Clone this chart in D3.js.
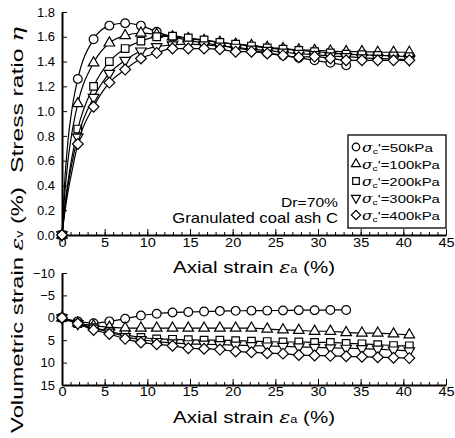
<!DOCTYPE html>
<html>
<head>
<meta charset="utf-8">
<script src="https://cdn.jsdelivr.net/npm/d3@7"></script>
<style>
  body { margin: 0; background: #fff; }
  svg { display: block; font-family: "Liberation Sans", Arial, sans-serif; }
</style>
</head>
<body>
<svg id="chart" width="455" height="438"></svg>
<script>
// axial strain (%) at each plotted marker
const strain = [0, 1.85, 3.7, 5.55, 7.4, 9.25, 11.1, 12.95, 14.8, 16.65, 18.5, 20.35, 22.2,
                24.05, 25.9, 27.75, 29.6, 31.45, 33.3, 35.15, 37.0, 38.85, 40.7];
// unmarked points of the fitted curves close to the origin
const leadStrain = [0.3, 0.7, 1.2];

const pressures = [50, 100, 200, 300, 400];

// stress ratio eta
const stress50  = [0, 1.26, 1.58, 1.69, 1.71, 1.69, 1.64, 1.60, 1.57, 1.55, 1.53, 1.51, 1.49, 1.47, 1.45, 1.43, 1.41, 1.39, 1.37];
const stress100 = [0, 1.06, 1.39, 1.55, 1.61, 1.63, 1.62, 1.60, 1.585, 1.57, 1.555, 1.54, 1.53, 1.515, 1.505, 1.495, 1.49, 1.485, 1.48, 1.48, 1.475, 1.475, 1.475];
const stress200 = [0, 0.855, 1.20, 1.40, 1.505, 1.565, 1.60, 1.605, 1.59, 1.575, 1.555, 1.54, 1.525, 1.51, 1.50, 1.49, 1.48, 1.47, 1.46, 1.455, 1.45, 1.445, 1.44];
const stress300 = [0, 0.79, 1.11, 1.305, 1.41, 1.485, 1.52, 1.535, 1.54, 1.535, 1.525, 1.515, 1.50, 1.49, 1.475, 1.465, 1.455, 1.445, 1.44, 1.43, 1.425, 1.42, 1.415];
const stress400 = [0, 0.735, 1.035, 1.23, 1.335, 1.425, 1.47, 1.505, 1.505, 1.505, 1.50, 1.48, 1.48, 1.465, 1.45, 1.435, 1.44, 1.425, 1.41, 1.41, 1.41, 1.41, 1.41];

const lead50  = [0.41, 0.76, 1.03];
const lead100 = [0.31, 0.60, 0.84];
const lead200 = [0.21, 0.43, 0.64];
const lead300 = [0.19, 0.40, 0.59];
const lead400 = [0.17, 0.35, 0.525];

// volumetric strain (%), compression positive
const vol50  = [0, 0.8, 1.2, 0.8, 0.2, -0.5, -0.9, -1.2, -1.3, -1.4, -1.5, -1.55, -1.6, -1.6, -1.65, -1.7, -1.7, -1.75, -1.75];
const vol100 = [0, 1.2, 1.8, 2.1, 2.3, 2.3, 2.3, 2.3, 2.3, 2.3, 2.3, 2.3, 2.3, 2.5, 2.7, 2.8, 3.0, 3.0, 3.3, 3.4, 3.4, 3.6, 3.8];
const vol200 = [0, 1.3, 2.2, 3.0, 3.8, 4.4, 4.7, 4.8, 4.9, 5.0, 5.0, 5.1, 5.2, 5.3, 5.4, 5.4, 5.5, 5.5, 5.7, 5.8, 6.0, 6.2, 6.25];
const vol300 = [0, 1.3, 2.3, 3.2, 4.2, 4.9, 5.3, 5.6, 5.8, 5.9, 6.0, 6.1, 6.2, 6.3, 6.4, 6.5, 6.6, 6.7, 6.8, 6.9, 7.0, 7.2, 7.4];
const vol400 = [0, 1.3, 2.7, 3.6, 4.7, 5.5, 5.9, 6.25, 6.8, 6.9, 7.1, 7.5, 7.7, 7.9, 8.0, 8.3, 8.4, 8.5, 8.6, 8.7, 8.8, 8.9, 9.0];

const xTicks = [0, 5, 10, 15, 20, 25, 30, 35, 40, 45];
const etaTicks = [0, 0.2, 0.4, 0.6, 0.8, 1.0, 1.2, 1.4, 1.6, 1.8];
const volTicks = [-10, -5, 0, 5, 10, 15];

const stressSeries = [stress50, stress100, stress200, stress300, stress400];
const leadSeries = [lead50, lead100, lead200, lead300, lead400];
const volSeries = [vol50, vol100, vol200, vol300, vol400];

const serif = "'DejaVu Serif', 'Liberation Serif', serif";
const svg = d3.select("#chart");

const x = d3.scaleLinear().domain([0, 45]).range([62, 446]);
const yTop = d3.scaleLinear().domain([0, 1.8]).range([235, 12]);
const yBot = d3.scaleLinear().domain([-10, 15]).range([273, 385]);

// marker shapes: circle, triangle, square, inverted triangle, diamond
const shapes = [
  { type: d3.symbolCircle, size: 60, rot: 0 },
  { type: d3.symbolTriangle, size: 48, rot: 0 },
  { type: d3.symbolSquare, size: 58, rot: 0 },
  { type: d3.symbolTriangle, size: 48, rot: 180 },
  { type: d3.symbolSquare, size: 58, rot: 45 }
];

function drawAxes(y, base, ticks, fmt, pad) {
  const yAxis = svg.append("g")
    .attr("transform", "translate(62,0)")
    .call(d3.axisLeft(y).tickValues(ticks).tickFormat(fmt).tickSizeInner(-5).tickSizeOuter(0).tickPadding(7));
  // minor ticks every 1 %
  svg.append("g")
    .attr("transform", "translate(0," + base + ")")
    .call(d3.axisBottom(x).tickValues(d3.range(0, 46, 1)).tickFormat("").tickSizeInner(-3).tickSizeOuter(0))
    .call(g => g.select(".domain").remove());
  const xAxis = svg.append("g")
    .attr("transform", "translate(0," + base + ")")
    .call(d3.axisBottom(x).tickValues(xTicks).tickSizeInner(-6).tickSizeOuter(0).tickPadding(pad));
  [yAxis, xAxis].forEach(g => {
    g.select(".domain").attr("stroke-width", 2);
    g.selectAll("text").attr("font-size", 13).attr("fill", "#000")
      .attr("font-family", "'Liberation Sans', Arial, sans-serif");
  });
  xAxis.selectAll("text").attr("transform", "scale(1.12,1)");
}

drawAxes(yTop, 235, etaTicks, d3.format(".1f"), 3);
drawAxes(yBot, 385, volTicks, d3.format("d"), 2);

const line = d3.line().x(d => x(d[0])).y(d => d[1]).curve(d3.curveMonotoneX);

function drawSeries(pts, marks, k) {
  svg.append("path")
    .attr("d", line(pts))
    .attr("fill", "none").attr("stroke", "#000").attr("stroke-width", 1.2);
  const s = shapes[k];
  svg.append("g").selectAll("path").data(marks).join("path")
    .attr("d", d3.symbol(s.type, s.size))
    .attr("transform", d => "translate(" + x(d[0]) + "," + d[1] + ") rotate(" + s.rot + ")")
    .attr("fill", "#fff").attr("stroke", "#000").attr("stroke-width", 1.2);
}

stressSeries.forEach((vals, k) => {
  const marks = vals.map((v, i) => [strain[i], yTop(v)]);
  const lead = leadSeries[k].map((v, i) => [leadStrain[i], yTop(v)]);
  const pts = [marks[0]].concat(lead, marks.slice(1));
  drawSeries(pts, marks, k);
});

volSeries.forEach((vals, k) => {
  const marks = vals.map((v, i) => [strain[i], yBot(v)]);
  drawSeries(marks, marks, k);
});

// text helpers
function richText(parent, parts, size) {
  const t = parent.append("text").attr("font-size", size).attr("fill", "#000");
  parts.forEach(p => {
    const s = t.append("tspan").text(p.t);
    if (p.i) s.attr("font-family", serif).attr("font-style", "italic");
    if (p.s) s.attr("font-size", p.s);
    if (p.dy) s.attr("dy", p.dy);
  });
  return t;
}
function place(t, cx, cy, width, rot, anchor) {
  t.attr("text-anchor", anchor || "middle");
  const k = width / t.node().getComputedTextLength();
  t.attr("transform", "translate(" + cx + "," + cy + ")" + (rot ? " rotate(" + rot + ")" : "") + " scale(" + k + ",1)");
}

const xTitle = [{ t: "Axial strain " }, { t: "ε", i: true, s: 16 }, { t: "a", s: 10 }, { t: " (%)" }];
place(richText(svg, xTitle, 16), 254, 273, 162);
place(richText(svg, xTitle, 16), 254, 423, 162);

place(richText(svg, [{ t: "Stress ratio " }, { t: "η", i: true }], 17), 23, 100, 146, -90);
place(richText(svg, [{ t: "Volumetric strain " }, { t: "ε", i: true, s: 17 }, { t: "v", s: 10 }, { t: " (%)" }], 17), 23, 310, 246, -90);

place(richText(svg, [{ t: "Dr=70%" }], 12.5), 338, 207, 57, 0, "end");
place(richText(svg, [{ t: "Granulated coal ash C" }], 14), 338, 223, 166, 0, "end");

// legend
svg.append("rect").attr("x", 348).attr("y", 135).attr("width", 98).attr("height", 93)
  .attr("fill", "#fff").attr("stroke", "#000").attr("stroke-width", 1.3);
pressures.forEach((p, k) => {
  const cy = 147 + k * 17;
  const s = shapes[k];
  svg.append("path")
    .attr("d", d3.symbol(s.type, s.size * 0.75))
    .attr("transform", "translate(356," + cy + ") rotate(" + s.rot + ")")
    .attr("fill", "#fff").attr("stroke", "#000").attr("stroke-width", 1.2);
  const t = richText(svg, [{ t: "σ", i: true, s: 12 }, { t: "c", s: 8, dy: 2 }, { t: "'=" + p + "kPa", dy: -2 }], 11.5);
  place(t, 362, cy + 4.5, p < 100 ? 71 : 78, 0, "start");
});
</script>
</body>
</html>
